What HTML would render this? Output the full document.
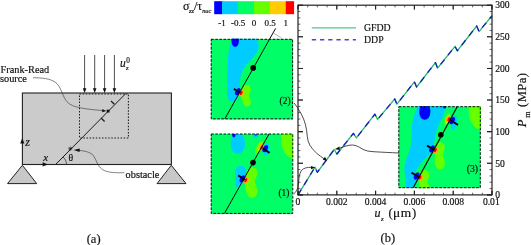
<!DOCTYPE html>
<html><head><meta charset="utf-8"><title>figure</title>
<style>html,body{margin:0;padding:0;background:#fff;overflow:hidden}svg{display:block}text{font-family:"Liberation Serif","DejaVu Serif",serif;fill:#111;stroke:#111;stroke-width:.18px}.i{font-style:italic}</style></head><body>
<svg width="531" height="245" viewBox="0 0 531 245">
<rect width="531" height="245" fill="#fff"/>
<g id="schematic">
<path d="M22.4 165.3 L7.5 183.6 L36.7 183.6 Z" fill="#c8c8c8" stroke="#222" stroke-width="1"/>
<path d="M171.3 165.3 L157 183.6 L186 183.6 Z" fill="#c8c8c8" stroke="#222" stroke-width="1"/>
<rect x="22.4" y="93" width="149" height="71.5" fill="#cbcbcb" stroke="#222" stroke-width="1.1"/>
<rect x="79.5" y="94" width="48.9" height="44" fill="none" stroke="#1a1a1a" stroke-width="1.05" stroke-dasharray="1.5 1.6"/>
<path d="M55.6 164.5 L125.8 93.5" stroke="#1a1a1a" stroke-width="1" fill="none"/>
<path d="M114.4 104.3 L111 101 M101.1 118 L104.6 121.5" stroke="#1a1a1a" stroke-width="1.2" fill="none"/>
<rect x="106.7" y="109.7" width="2.8" height="2.8" fill="#111"/>
<path d="M84.6 55 V89" stroke="#222" stroke-width="0.8" fill="none"/>
<path d="M84.6 93 L82.8 88.2 L86.4 88.2 Z" fill="#111"/>
<path d="M94.7 55 V89" stroke="#222" stroke-width="0.8" fill="none"/>
<path d="M94.7 93 L92.9 88.2 L96.5 88.2 Z" fill="#111"/>
<path d="M104.6 55 V89" stroke="#222" stroke-width="0.8" fill="none"/>
<path d="M104.6 93 L102.8 88.2 L106.4 88.2 Z" fill="#111"/>
<path d="M114.4 55 V89" stroke="#222" stroke-width="0.8" fill="none"/>
<path d="M114.4 93 L112.6 88.2 L116.2 88.2 Z" fill="#111"/>
<path d="M33 77.7 C42 77.8 50 78.6 55 82 C61 86 62 95 66 100.5 C71 107.5 82 108.6 102.5 110.6" stroke="#333" stroke-width="0.6" fill="none"/>
<path d="M106.3 111 L102.3 109 L102.1 112.3 Z" fill="#111"/>
<path d="M68.2 148.7 H72.4 M70.3 146.6 V150.8 M68.8 147.2 L71.8 150.2 M71.8 147.2 L68.8 150.2" stroke="#222" stroke-width="0.7" fill="none"/>
<path d="M124.2 172.7 C117 172.8 108 173 102.5 169.6 C97 166 96 158 92.5 154.6 C89.5 151.8 84 150.8 78.5 150.3" stroke="#333" stroke-width="0.6" fill="none"/>
<path d="M73.6 150 L79.8 148.6 L79.6 152 Z" fill="#111"/>
<path d="M63.2 157 A10.8 10.8 0 0 1 66.6 164.2" stroke="#222" stroke-width="0.7" fill="none"/>
<path d="M22.3 138 L20.2 143.4 L24.4 143.4 Z" fill="#111"/>
<path d="M48 164.4 L42.6 162.3 L42.6 166.5 Z" fill="#111"/>
<text x="0.6" y="73" font-size="10.3">Frank-Read</text>
<text x="0" y="81.9" font-size="10.3">source</text>
<text x="125.6" y="177.5" font-size="10.3">obstacle</text>
<text class="i" x="120.1" y="66.5" font-size="11.5">u</text>
<text x="126.2" y="63.3" font-size="7.3">0</text>
<text class="i" x="126" y="69.8" font-size="6.5">z</text>
<text class="i" x="25.2" y="145.5" font-size="12">z</text>
<text class="i" x="43.3" y="160.6" font-size="11">x</text>
<text x="68.6" y="161.2" font-size="9.7">θ</text>
<text x="86.7" y="242.6" font-size="12.5">(a)</text>
</g>
<g id="colourbar">
<rect x="214.2" y="1.2" width="8.2" height="13" fill="#0000ff"/>
<rect x="222.1" y="1.2" width="16.0" height="13" fill="#00ccff"/>
<rect x="237.8" y="1.2" width="16.5" height="13" fill="#00ff66"/>
<rect x="254.0" y="1.2" width="16.3" height="13" fill="#66ff00"/>
<rect x="270.0" y="1.2" width="16.1" height="13" fill="#ffcc00"/>
<rect x="285.8" y="1.2" width="8.3" height="13" fill="#ff0000"/>
<text x="183.1" y="9.7" font-size="12">σ</text>
<text class="i" x="189" y="12.9" font-size="6.6" fill="#444" stroke="none">zz</text>
<text x="193.9" y="9.7" font-size="12">/</text>
<text x="197.2" y="9.7" font-size="12">τ</text>
<text class="i" x="202.2" y="12.9" font-size="6.3" fill="#444" stroke="none">nuc</text>
<text x="221.9" y="25.6" font-size="9" text-anchor="middle">-1</text>
<text x="238.1" y="25.6" font-size="9" text-anchor="middle">-0.5</text>
<text x="254.1" y="25.6" font-size="9" text-anchor="middle">0</text>
<text x="270" y="25.6" font-size="9" text-anchor="middle">0.5</text>
<text x="285.7" y="25.6" font-size="9" text-anchor="middle">1</text>
</g>
<g id="plot">
<path d="M298 194.9 L315 167.1 L317.3 172.3 L334.2 149.5 L336.9 154 L353.4 133.4 L356.4 137.9 L374.9 114.2 L377.6 119.4 L394.8 98.9 L396.9 104.2 L414.4 81.8 L416.6 87 L435.4 62.6 L437.6 68.2 L455 46.3 L457.3 50.8 L476.7 26 L479 31.6 L491.9 15.8" stroke="#22ba6a" stroke-width="1.3" fill="none" stroke-linejoin="round"/>
<path d="M298 194.9 L315 167.1 L317.3 172.3 L334.2 149.5 L336.9 154 L353.4 133.4 L356.4 137.9 L374.9 114.2 L377.6 119.4 L394.8 98.9 L396.9 104.2 L414.4 81.8 L416.6 87 L435.4 62.6 L437.6 68.2 L455 46.3 L457.3 50.8 L476.7 26 L479 31.6 L491.9 15.8" stroke="#1a1abc" stroke-width="1.3" fill="none" stroke-dasharray="6.2 5.6" stroke-linejoin="round"/>
<rect x="298.0" y="5.2" width="194.0" height="189.7" fill="none" stroke="#222" stroke-width="1.2"/>
<path d="M298.00 194.9 v-4.2 M298.00 5.2 v4.2 M307.70 194.9 v-2.2 M307.70 5.2 v2.2 M317.40 194.9 v-2.2 M317.40 5.2 v2.2 M327.10 194.9 v-2.2 M327.10 5.2 v2.2 M336.80 194.9 v-4.2 M336.80 5.2 v4.2 M346.50 194.9 v-2.2 M346.50 5.2 v2.2 M356.20 194.9 v-2.2 M356.20 5.2 v2.2 M365.90 194.9 v-2.2 M365.90 5.2 v2.2 M375.60 194.9 v-4.2 M375.60 5.2 v4.2 M385.30 194.9 v-2.2 M385.30 5.2 v2.2 M395.00 194.9 v-2.2 M395.00 5.2 v2.2 M404.70 194.9 v-2.2 M404.70 5.2 v2.2 M414.40 194.9 v-4.2 M414.40 5.2 v4.2 M424.10 194.9 v-2.2 M424.10 5.2 v2.2 M433.80 194.9 v-2.2 M433.80 5.2 v2.2 M443.50 194.9 v-2.2 M443.50 5.2 v2.2 M453.20 194.9 v-4.2 M453.20 5.2 v4.2 M462.90 194.9 v-2.2 M462.90 5.2 v2.2 M472.60 194.9 v-2.2 M472.60 5.2 v2.2 M482.30 194.9 v-2.2 M482.30 5.2 v2.2 M492.00 194.9 v-4.2 M492.00 5.2 v4.2 M298.0 194.90 h5 M492.0 194.90 h-5 M298.0 188.58 h2.4 M492.0 188.58 h-2.4 M298.0 182.25 h2.4 M492.0 182.25 h-2.4 M298.0 175.93 h2.4 M492.0 175.93 h-2.4 M298.0 169.61 h2.4 M492.0 169.61 h-2.4 M298.0 163.28 h5 M492.0 163.28 h-5 M298.0 156.96 h2.4 M492.0 156.96 h-2.4 M298.0 150.64 h2.4 M492.0 150.64 h-2.4 M298.0 144.31 h2.4 M492.0 144.31 h-2.4 M298.0 137.99 h2.4 M492.0 137.99 h-2.4 M298.0 131.67 h5 M492.0 131.67 h-5 M298.0 125.34 h2.4 M492.0 125.34 h-2.4 M298.0 119.02 h2.4 M492.0 119.02 h-2.4 M298.0 112.70 h2.4 M492.0 112.70 h-2.4 M298.0 106.37 h2.4 M492.0 106.37 h-2.4 M298.0 100.05 h5 M492.0 100.05 h-5 M298.0 93.73 h2.4 M492.0 93.73 h-2.4 M298.0 87.40 h2.4 M492.0 87.40 h-2.4 M298.0 81.08 h2.4 M492.0 81.08 h-2.4 M298.0 74.76 h2.4 M492.0 74.76 h-2.4 M298.0 68.43 h5 M492.0 68.43 h-5 M298.0 62.11 h2.4 M492.0 62.11 h-2.4 M298.0 55.79 h2.4 M492.0 55.79 h-2.4 M298.0 49.46 h2.4 M492.0 49.46 h-2.4 M298.0 43.14 h2.4 M492.0 43.14 h-2.4 M298.0 36.82 h5 M492.0 36.82 h-5 M298.0 30.49 h2.4 M492.0 30.49 h-2.4 M298.0 24.17 h2.4 M492.0 24.17 h-2.4 M298.0 17.85 h2.4 M492.0 17.85 h-2.4 M298.0 11.52 h2.4 M492.0 11.52 h-2.4 M298.0 5.20 h5 M492.0 5.20 h-5" stroke="#222" stroke-width="0.7" fill="none"/>
<path d="M298.00 194.9 v-4.2 M298.00 5.2 v4.2 M336.80 194.9 v-4.2 M336.80 5.2 v4.2 M375.60 194.9 v-4.2 M375.60 5.2 v4.2 M414.40 194.9 v-4.2 M414.40 5.2 v4.2 M453.20 194.9 v-4.2 M453.20 5.2 v4.2 M492.00 194.9 v-4.2 M492.00 5.2 v4.2 M298.0 194.90 h5 M492.0 194.90 h-5 M298.0 163.28 h5 M492.0 163.28 h-5 M298.0 131.67 h5 M492.0 131.67 h-5 M298.0 100.05 h5 M492.0 100.05 h-5 M298.0 68.43 h5 M492.0 68.43 h-5 M298.0 36.82 h5 M492.0 36.82 h-5 M298.0 5.20 h5 M492.0 5.20 h-5" stroke="#222" stroke-width="1.1" fill="none"/>
<text x="298.0" y="204.9" font-size="9.6" text-anchor="middle">0</text>
<text x="336.8" y="204.9" font-size="9.6" text-anchor="middle">0.002</text>
<text x="375.6" y="204.9" font-size="9.6" text-anchor="middle">0.004</text>
<text x="414.4" y="204.9" font-size="9.6" text-anchor="middle">0.006</text>
<text x="453.2" y="204.9" font-size="9.6" text-anchor="middle">0.008</text>
<text x="491.3" y="204.9" font-size="9.6" text-anchor="middle">0.01</text>
<text x="495.2" y="198.2" font-size="9.6">0</text>
<text x="495.2" y="166.5" font-size="9.6">50</text>
<text x="495.2" y="134.9" font-size="9.6">100</text>
<text x="495.2" y="103.3" font-size="9.6">150</text>
<text x="495.2" y="71.7" font-size="9.6">200</text>
<text x="495.2" y="40.1" font-size="9.6">250</text>
<text x="495.2" y="8.4" font-size="9.6">300</text>
<path d="M311.8 27.9 H356" stroke="#4fc890" stroke-width="1.4" fill="none"/>
<path d="M311.8 39.8 H356" stroke="#4848d0" stroke-width="1.5" fill="none" stroke-dasharray="4.3 3.9"/>
<text x="364" y="30.8" font-size="9.8">GFDD</text>
<text x="364" y="42.6" font-size="9.8">DDP</text>
<text class="i" x="374.5" y="216.8" font-size="12">u</text>
<text class="i" x="381" y="221.3" font-size="6.5" fill="#555">z</text>
<text y="216.8" font-size="12.6"><tspan x="388.5">(</tspan><tspan x="392.9 400.7" font-size="13.4">μm</tspan><tspan x="411.9">)</tspan></text>
<text x="380.5" y="242.3" font-size="12.5">(b)</text>
<g transform="translate(525.5 127.2) rotate(-90)"><text class="i" x="0" y="0" font-size="12.5">P</text><text x="9.5" y="4.4" font-size="8.2">m</text><text x="20.2" y="0" font-size="12.5" letter-spacing="0.5">(MPa)</text></g>
</g>
<g id="inset2">
<clipPath id="c2"><rect x="210.8" y="38.8" width="82.4" height="80.9"/></clipPath>
<g clip-path="url(#c2)">
<rect x="210.8" y="38.8" width="82.4" height="80.9" fill="#00ff66"/>
<path d="M232.6 38 C229 46 227.5 56 227.6 70 C227.6 82 226.4 93 228 98.6 C230 103.6 235.4 103 237.3 98.6 L240.5 91 L239.8 84 C239.8 78 241.2 72 245 66.5 C250 60.5 257 55 258.6 48 C259 44 258 41 257 38 Z" fill="#00ccff"/>
<path d="M231.4 38 C231.2 43.5 232.6 46.8 235.2 46.8 C237.8 46.8 239.2 43.5 238.9 38 Z" fill="#0000ff"/>
<path d="M242.2 92 C241.5 88 244.5 84.6 247.6 84.8 C250.8 85.2 251.8 89 250 92.5 C248.6 95 248.6 96.5 250 99 C251.8 102.6 250.6 106.4 247.4 106.6 C244.2 106.6 242.2 102.5 241.8 98 Z" fill="#66ff00"/>
<ellipse cx="237.8" cy="91.6" rx="2.3" ry="3.9" transform="rotate(30 237.8 91.6)" fill="#0000ff"/><ellipse cx="241.9" cy="93.3" rx="2.2" ry="3.4" transform="rotate(20 241.9 93.3)" fill="#ffb000"/><ellipse cx="241.2" cy="93.0" rx="1.15" ry="2.3" transform="rotate(25 241.2 93.0)" fill="#ff0000"/>
</g>
<path d="M275.6 28.4 L224.8 118.9" stroke="#080808" stroke-width="1" fill="none"/>
<path d="M273.2 32.9 L281.3 37.8" stroke="#666" stroke-width="0.5" fill="none"/>
<path d="M233.8 88.9 L240.5 92.8" stroke="#080808" stroke-width="1.9" fill="none"/>
<circle cx="253.2" cy="67.9" r="2.8" fill="#000"/>
<rect x="211.2" y="39.3" width="81.4" height="79.5" fill="none" stroke="#111" stroke-width="1" stroke-dasharray="2.6 1.5"/>
<text x="279.6" y="104.2" font-size="9.4">(2)</text>
</g>
<g id="inset1">
<clipPath id="c1"><rect x="210.8" y="134" width="82" height="80.3"/></clipPath>
<g clip-path="url(#c1)">
<rect x="210.8" y="134" width="82" height="80.3" fill="#00ff66"/>
<ellipse cx="237.8" cy="143.5" rx="7.3" ry="10.6" fill="#00ccff"/>
<ellipse cx="233.8" cy="135" rx="1.7" ry="2.4" fill="#0000ff"/>
<ellipse cx="255.8" cy="135.2" rx="2.4" ry="3" fill="#00ccff"/>
<ellipse cx="255.8" cy="134.6" rx="1.2" ry="1.6" fill="#2060ff"/>
<path d="M281.3 133 C280.6 142 281.6 148 285 153 C287.4 156.4 290.5 158.5 294 159.5 L294 133 Z" fill="#66ff00"/>
<ellipse cx="259.2" cy="147.6" rx="2.9" ry="7.4" transform="rotate(28 259.2 147.6)" fill="#66ff00"/>
<ellipse cx="266.6" cy="149.5" rx="2.7" ry="6.6" transform="rotate(8 266.6 149.5)" fill="#00ccff"/>
<ellipse cx="260.6" cy="147.4" rx="1.6" ry="4" transform="rotate(28 260.6 147.4)" fill="#e0ff00"/>
<ellipse cx="265.2" cy="148.6" rx="2.3" ry="3.9" transform="rotate(30 265.2 148.6)" fill="#0000ff"/><ellipse cx="261.1" cy="146.9" rx="2.2" ry="3.4" transform="rotate(20 261.1 146.9)" fill="#ffb000"/><ellipse cx="261.8" cy="147.2" rx="1.15" ry="2.3" transform="rotate(25 261.8 147.2)" fill="#ff0000"/>
<path d="M243.8 180 C241 186 237 189 235.4 185.5 C234.2 182 236 178 235.2 173 C234.6 168.5 237.6 165.6 241.2 166 C244.6 166.4 246.6 169 246.8 172 Z" fill="#00ccff"/>
<path d="M246 174 C246.4 169.6 250 167.2 253.6 167.6 C257.6 168.2 258.6 173 256.2 177.4 C254.4 180.6 254.6 183 256.4 186.6 C258.8 191.6 257 197.6 252.4 198 C248 198.2 245.8 192.6 245 186.6 Z" fill="#66ff00"/>
<ellipse cx="242.4" cy="178.8" rx="2.3" ry="3.9" transform="rotate(30 242.4 178.8)" fill="#0000ff"/><ellipse cx="246.5" cy="180.5" rx="2.2" ry="3.4" transform="rotate(20 246.5 180.5)" fill="#ffb000"/><ellipse cx="245.8" cy="180.2" rx="1.15" ry="2.3" transform="rotate(25 245.8 180.2)" fill="#ff0000"/>
</g>
<path d="M269 134 L224.5 213.3" stroke="#080808" stroke-width="1" fill="none"/>
<path d="M262.7 148.2 L269.6 152.9" stroke="#080808" stroke-width="1.9" fill="none"/>
<path d="M238.2 175.4 L244.8 179.8" stroke="#080808" stroke-width="1.9" fill="none"/>
<circle cx="253" cy="162.6" r="2.8" fill="#000"/>
<rect x="211.2" y="134" width="81.6" height="79.4" fill="none" stroke="#111" stroke-width="1" stroke-dasharray="2.6 1.5"/>
<text x="278.4" y="196.2" font-size="9.4">(1)</text>
</g>
<g id="inset3">
<clipPath id="c3"><rect x="398.4" y="106.3" width="82.3" height="82"/></clipPath>
<g clip-path="url(#c3)">
<rect x="398.4" y="106.3" width="82.3" height="82" fill="#00ff66"/>
<path d="M419 105 C414 112 411.6 122 411.8 132 C412 140 411 147 408 155 C405.4 161 403.6 166 404.6 172 C405.4 177 406.4 182 405 188 L413.2 188 L417 178.5 L415.4 172 C417.6 167 423 161 428.4 155.5 L431.5 150 C433.5 146 434.6 141 435.4 136 C436.4 129 439.6 122.5 443 116.5 C444.8 113 445.2 108.5 444.6 105 Z" fill="#00ccff"/>
<ellipse cx="424.8" cy="111.6" rx="5.6" ry="8.2" fill="#0000ff"/>
<ellipse cx="444.6" cy="106.4" rx="1.6" ry="2.2" fill="#0000ff"/>
<path d="M469 105 C468.2 113 469 119.5 472.6 124.6 C475 128 478.4 129.8 482 130.4 L482 105 Z" fill="#66ff00"/>
<ellipse cx="447.2" cy="119" rx="2.4" ry="6" transform="rotate(20 447.2 119)" fill="#66ff00"/>
<ellipse cx="447.8" cy="119.4" rx="1.6" ry="4.4" transform="rotate(20 447.8 119.4)" fill="#e0ff00"/>
<ellipse cx="454" cy="122.5" rx="2.9" ry="7.6" transform="rotate(6 454 122.5)" fill="#00ccff"/>
<ellipse cx="452.2" cy="120.7" rx="2.3" ry="3.9" transform="rotate(30 452.2 120.7)" fill="#0000ff"/><ellipse cx="448.1" cy="119.0" rx="2.2" ry="3.4" transform="rotate(20 448.1 119.0)" fill="#ffb000"/><ellipse cx="448.8" cy="119.3" rx="1.15" ry="2.3" transform="rotate(25 448.8 119.3)" fill="#ff0000"/>
<path d="M435.4 147 C436 143.4 439 141.4 442 142.4 C445 143.6 445.6 147.6 443.6 151.4 C442.4 153.8 442.6 156 444 159 C446 163.6 444.6 168.8 440.4 169.4 C436.6 169.6 435 165 434.6 160 Z" fill="#66ff00"/>
<ellipse cx="432.0" cy="148.8" rx="2.3" ry="3.9" transform="rotate(30 432.0 148.8)" fill="#0000ff"/><ellipse cx="436.1" cy="150.5" rx="2.2" ry="3.4" transform="rotate(20 436.1 150.5)" fill="#ffb000"/><ellipse cx="435.4" cy="150.2" rx="1.15" ry="2.3" transform="rotate(25 435.4 150.2)" fill="#ff0000"/>
<path d="M419.6 174.6 C420.4 171 423.4 169.4 426.4 170.4 C429.6 171.6 430.2 175.4 428.4 178.6 C427.4 180.6 427.6 182.4 428.6 184.6 C429.6 186.6 429.6 188 429 189 L418.6 189 Z" fill="#66ff00"/>
<ellipse cx="416.6" cy="176.0" rx="2.3" ry="3.9" transform="rotate(30 416.6 176.0)" fill="#0000ff"/><ellipse cx="420.7" cy="177.7" rx="2.2" ry="3.4" transform="rotate(20 420.7 177.7)" fill="#ffb000"/><ellipse cx="420.0" cy="177.4" rx="1.15" ry="2.3" transform="rotate(25 420.0 177.4)" fill="#ff0000"/>
</g>
<path d="M457.2 106.7 L413.2 187.7" stroke="#080808" stroke-width="1.2" fill="none"/>
<path d="M450.4 120.2 L458 124.9" stroke="#080808" stroke-width="1.9" fill="none"/>
<path d="M427 145.7 L434.6 150" stroke="#080808" stroke-width="1.9" fill="none"/>
<path d="M411.5 172.6 L419 177.3" stroke="#080808" stroke-width="1.9" fill="none"/>
<circle cx="440.8" cy="134.8" r="2.8" fill="#000"/>
<rect x="398.8" y="106.7" width="81.5" height="81" fill="none" stroke="#111" stroke-width="1" stroke-dasharray="2.6 1.5"/>
<text x="466.7" y="172.1" font-size="9.8">(3)</text>
</g>
<g id="leaders" stroke="#222" stroke-width="0.8" fill="none">
<path d="M294 102.9 C299 109 303.5 117 305.6 125 C307.6 133 306.6 140 310 145.5 C313.6 151.4 319.4 155.6 324.6 159.2"/>
<path d="M293.6 194 C296.4 192 297.8 189 298.4 184 C299 178 299 174 301.4 170.6 C303.6 167.8 307.6 167.2 311.4 167.4"/>
<path d="M399 153 C390 152.6 382 152.2 375 151.8 C369 151.4 366 151 362.4 149 C358.6 146.8 356 145.2 352.6 145 C348 144.8 344 146.8 339.2 148.2"/>
</g>
<path d="M327.2 161 L322.8 159.8 L325 156.8 Z" fill="#111"/>
<path d="M315.2 167.6 L311 166 L311 169.2 Z" fill="#111"/>
<path d="M334.8 149.2 L339.4 146.6 L339.8 150 Z" fill="#111"/>
</svg></body></html>
